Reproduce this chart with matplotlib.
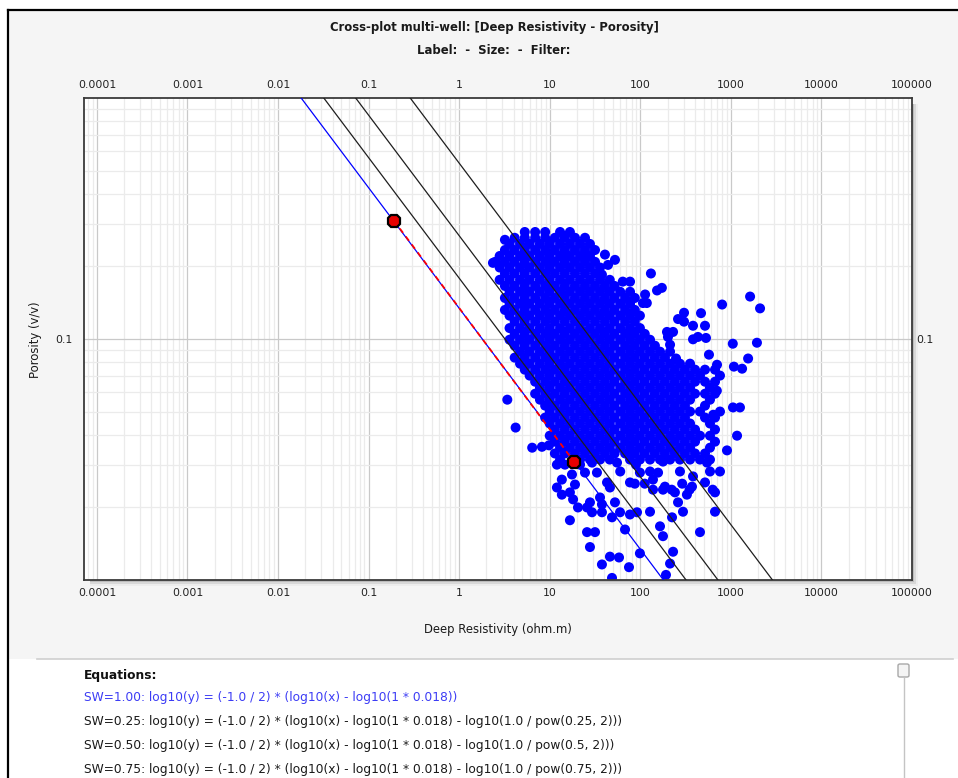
import matplotlib
matplotlib.use("Agg")
import matplotlib.pyplot as plt
from matplotlib.patches import Rectangle, FancyBboxPatch
from matplotlib.lines import Line2D
from matplotlib.ticker import FixedLocator, NullFormatter

# Archie parameters used for the saturation lines
a_coef = 1
rw = 0.018
sw_values = [1.00, 0.25, 0.50, 0.75]
sw_colors = ["#0000ff", "#1e1e1e", "#1e1e1e", "#1e1e1e"]

# two picked points on the SW=1 line (resistivity, porosity)
pick_res = [0.19, 18.5]
pick_por = [0.31, 0.031]

x_ticks = [0.0001, 0.001, 0.01, 0.1, 1, 10, 100, 1000, 10000, 100000]
x_tick_labels = ["0.0001", "0.001", "0.01", "0.1", "1", "10", "100", "1000", "10000", "100000"]
y_ticks = [0.1]
y_tick_labels = ["0.1"]

# well data, grouped by porosity rows (v/v) -> deep resistivity (ohm.m)
row_porosity = [0.278, 0.263, 0.248, 0.234, 0.221, 0.209, 0.198, 0.187, 0.176, 0.166,
                0.157, 0.148, 0.140, 0.132, 0.125, 0.118, 0.111, 0.105, 0.0993, 0.0938,
                0.0886, 0.0837, 0.0790, 0.0746, 0.0705, 0.0665, 0.0628, 0.0593, 0.0560, 0.0529,
                0.0500, 0.0472, 0.0446, 0.0421, 0.0397, 0.0375, 0.0354, 0.0335, 0.0316, 0.0282,
                0.0251, 0.0237]
row_resistivity = [
    [5.3, 6.9, 8.9, 13, 16.7],
    [4.1, 5.3, 6.9, 8.9, 11.4, 14.7, 19, 24.5],
    [3.6, 4.7, 6.0, 7.8, 10, 13, 16.7, 21.6, 27.8],
    [3.2, 4.1, 5.3, 6.9, 8.9, 11.4, 14.7, 19, 24.5, 31.6],
    [2.8, 3.6, 4.7, 6.0, 7.8, 10, 13, 16.7, 21.6, 27.8],
    [2.5, 3.2, 4.1, 5.3, 6.9, 8.9, 11.4, 14.7, 19, 24.5, 31.6],
    [2.8, 3.6, 4.7, 6.0, 7.8, 10, 13, 16.7, 21.6, 27.8, 35.9],
    [3.2, 4.1, 5.3, 6.9, 8.9, 11.4, 14.7, 19, 24.5, 31.6],
    [2.8, 3.6, 4.7, 6.0, 7.8, 10, 13, 16.7, 21.6, 27.8, 35.9, 46],
    [3.2, 4.1, 5.3, 6.9, 8.9, 11.4, 14.7, 19, 24.5, 31.6, 40.7, 52],
    [3.6, 4.7, 6.0, 7.8, 10, 13, 16.7, 21.6, 27.8, 35.9, 46, 60, 77],
    [3.2, 4.1, 5.3, 6.9, 8.9, 11.4, 14.7, 19, 24.5, 31.6, 40.7, 52, 68, 87],
    [3.6, 4.7, 6.0, 7.8, 10, 13, 16.7, 21.6, 27.8, 35.9, 46, 60, 77],
    [3.2, 4.1, 5.3, 6.9, 8.9, 11.4, 14.7, 19, 24.5, 31.6, 40.7, 52, 68, 87],
    [3.6, 4.7, 6.0, 7.8, 10, 13, 16.7, 21.6, 27.8, 35.9, 46, 60, 77, 99],
    [4.1, 5.3, 6.9, 8.9, 11.4, 14.7, 19, 24.5, 31.6, 40.7, 52, 68, 87],
    [3.6, 4.7, 6.0, 7.8, 10, 13, 16.7, 21.6, 27.8, 35.9, 46, 60, 77, 99],
    [4.1, 5.3, 6.9, 8.9, 11.4, 14.7, 19, 24.5, 31.6, 40.7, 52, 68, 87, 112],
    [3.6, 4.7, 6.0, 7.8, 10, 13, 16.7, 21.6, 27.8, 35.9, 46, 60, 77, 99, 128],
    [4.1, 5.3, 6.9, 8.9, 11.4, 14.7, 19, 24.5, 31.6, 40.7, 52, 68, 87, 112, 145],
    [4.7, 6.0, 7.8, 10, 13, 16.7, 21.6, 27.8, 35.9, 46, 60, 77, 99, 128, 165],
    [4.1, 5.3, 6.9, 8.9, 11.4, 14.7, 19, 24.5, 31.6, 40.7, 52, 68, 87, 112, 145, 187],
    [4.7, 6.0, 7.8, 10, 13, 16.7, 21.6, 27.8, 35.9, 46, 60, 77, 99, 128, 165, 213, 274, 354],
    [5.3, 6.9, 8.9, 11.4, 14.7, 19, 24.5, 31.6, 40.7, 52, 68, 87, 112, 145, 187, 241, 311, 402, 518, 668],
    [6.0, 7.8, 10, 13, 16.7, 21.6, 27.8, 35.9, 46, 60, 77, 99, 128, 165, 213, 274, 354, 456, 758],
    [6.9, 8.9, 11.4, 14.7, 19, 24.5, 31.6, 40.7, 52, 68, 87, 112, 145, 187, 241, 311, 402, 518, 668],
    [7.8, 10, 13, 16.7, 21.6, 27.8, 35.9, 46, 60, 77, 99, 128, 165, 213, 274, 354, 588],
    [6.9, 8.9, 11.4, 14.7, 19, 24.5, 31.6, 40.7, 52, 68, 87, 112, 145, 187, 241, 311, 402, 518, 668],
    [7.8, 10, 13, 16.7, 21.6, 27.8, 35.9, 46, 60, 77, 99, 128, 165, 213, 274, 354, 588],
    [8.9, 11.4, 14.7, 19, 24.5, 31.6, 40.7, 52, 68, 87, 112, 145, 187, 241, 311, 518],
    [10, 13, 16.7, 21.6, 27.8, 35.9, 46, 60, 77, 99, 128, 165, 213, 274, 354, 456, 758],
    [8.9, 11.4, 14.7, 19, 24.5, 31.6, 40.7, 52, 68, 87, 112, 145, 187, 241, 311, 518, 668],
    [10, 13, 16.7, 21.6, 27.8, 35.9, 46, 60, 77, 99, 128, 165, 213, 274, 354, 588],
    [11.4, 14.7, 19, 24.5, 31.6, 40.7, 52, 68, 87, 112, 145, 187, 241, 311, 402, 668],
    [10, 13, 16.7, 21.6, 27.8, 35.9, 46, 60, 77, 99, 128, 165, 213, 274, 354, 456, 588],
    [11.4, 14.7, 19, 24.5, 31.6, 40.7, 52, 68, 87, 112, 145, 187, 241, 311, 402, 668],
    [13, 16.7, 21.6, 27.8, 35.9, 46, 60, 77, 99, 128, 165, 213, 274, 354, 588],
    [11.4, 14.7, 19, 24.5, 31.6, 40.7, 52, 68, 87, 112, 145, 187, 241, 311, 402, 518],
    [13, 21.6, 27.8, 35.9, 46, 77, 99, 128, 165, 213, 274, 354, 456, 588],
    [60, 128, 274, 588, 758],
    [87, 112, 290],
    [138, 178, 222, 350, 630],
]

# isolated samples (resistivity, porosity)
scattered = [
    (3.2, 0.258), (2.36, 0.207), (131, 0.187), (1630, 0.150), (2100, 0.134),
    (800, 0.139), (1050, 0.0956), (1940, 0.0965), (1550, 0.083), (1330, 0.0753),
    (1080, 0.0768), (1055, 0.052), (1260, 0.052), (1170, 0.0397), (906, 0.0345),
    (304, 0.1285), (468, 0.128), (304, 0.118), (382, 0.1135), (518, 0.1135),
    (261, 0.121), (230, 0.107), (197, 0.107), (202, 0.102), (382, 0.0997),
    (433, 0.102), (531, 0.101), (213, 0.0947), (213, 0.0886), (248, 0.083),
    (573, 0.0861), (703, 0.0782), (113, 0.153), (107, 0.141), (118, 0.141),
    (153, 0.159), (173, 0.163), (64, 0.173), (77, 0.173), (40.7, 0.224),
    (52.5, 0.213), (44, 0.203), (37.7, 0.185), (3.4, 0.056), (4.2, 0.0429),
    (6.4, 0.0354), (8.2, 0.0357), (9.8, 0.0362), (700, 0.0610), (640, 0.0485),
    (12.0, 0.0301), (14.7, 0.0301), (13.6, 0.0261), (17.6, 0.0274), (19.0, 0.0249),
    (12.0, 0.0242), (13.6, 0.0226), (16.7, 0.0231), (18.1, 0.0216), (21.6, 0.0301),
    (29.3, 0.0307), (55.3, 0.0307), (89.5, 0.0301), (178, 0.0310), (545, 0.0307),
    (24.5, 0.0279), (33.2, 0.0279), (99, 0.0279), (157, 0.0279), (382, 0.0269),
    (42.9, 0.0254), (76.9, 0.0254), (138, 0.0261), (187, 0.0244), (372, 0.0244),
    (518, 0.0254), (46.2, 0.0242), (241, 0.0231), (327, 0.0226), (668, 0.0231),
    (35.9, 0.0220), (52.5, 0.0210), (37.7, 0.0206), (261, 0.0210), (27.8, 0.0210),
    (25.8, 0.0200), (20.5, 0.0200), (29.3, 0.0191), (37.7, 0.0191), (59.7, 0.0191),
    (76.9, 0.0187), (91.9, 0.0191), (128, 0.0192), (296, 0.0192), (668, 0.0192),
    (48.7, 0.0182), (224, 0.0182), (16.7, 0.0177), (165, 0.0167), (67.8, 0.0162),
    (178, 0.0152), (456, 0.0158), (25.8, 0.0158), (31.6, 0.0158), (27.8, 0.0137),
    (99, 0.0129), (230, 0.0131), (46.2, 0.0125), (58.2, 0.0124), (213, 0.0117),
    (37.7, 0.0116), (75, 0.0113), (48.7, 0.0102), (192, 0.0105),
]

equations = [
    "SW=1.00: log10(y) = (-1.0 / 2) * (log10(x) - log10(1 * 0.018))",
    "SW=0.25: log10(y) = (-1.0 / 2) * (log10(x) - log10(1 * 0.018) - log10(1.0 / pow(0.25, 2)))",
    "SW=0.50: log10(y) = (-1.0 / 2) * (log10(x) - log10(1 * 0.018) - log10(1.0 / pow(0.5, 2)))",
    "SW=0.75: log10(y) = (-1.0 / 2) * (log10(x) - log10(1 * 0.018) - log10(1.0 / pow(0.75, 2)))",
]
equation_colors = ["#3c3cf5", "#1a1a1a", "#1a1a1a", "#1a1a1a"]

W, H = 958, 778
FONT = "DejaVu Sans"


def fx(px):
    return px / W


def fy(py):
    return 1 - py / H


def frect(x0, y0, x1, y1, **kw):
    return Rectangle((fx(x0), fy(y1)), fx(x1) - fx(x0), fy(y0) - fy(y1),
                     transform=fig.transFigure, **kw)


fig = plt.figure(figsize=(W / 100, H / 100), dpi=100)
fig.patch.set_facecolor("white")

# window panel, plot shadow and equations area
fig.patches.append(frect(8, 10, 960, 659, facecolor="#f5f5f5", edgecolor="none", zorder=-3))
fig.patches.append(frect(8, 659, 960, 780, facecolor="white", edgecolor="none", zorder=-3))
for off, shade in [(6, "#ededed"), (4, "#d8d8d8"), (2, "#bcbcbc")]:
    fig.patches.append(frect(90, 104, 912 + off, 580 + off, facecolor=shade,
                             edgecolor="none", zorder=-2))
fig.lines.append(Line2D([fx(8), fx(8)], [fy(10), fy(780)], transform=fig.transFigure,
                        color="black", lw=1.6))
fig.lines.append(Line2D([fx(8), fx(960)], [fy(10), fy(10)], transform=fig.transFigure,
                        color="black", lw=1.6))
fig.lines.append(Line2D([fx(37), fx(953)], [fy(659), fy(659)], transform=fig.transFigure,
                        color="#cfcfcf", lw=1.2))

ax = fig.add_axes([fx(84), fy(580), fx(912) - fx(84), fy(98) - fy(580)])
ax.set_xscale("log")
ax.set_yscale("log")
ax.set_xlim(7.2e-5, 1e5)
ax.set_ylim(0.01, 1)

x_minor = [m * 10.0 ** k for k in range(-5, 5) for m in range(2, 10)]
y_minor = [m * 10.0 ** k for k in range(-2, 0) for m in range(2, 10)]
ax.xaxis.set_major_locator(FixedLocator(x_ticks))
ax.xaxis.set_minor_locator(FixedLocator(x_minor))
ax.yaxis.set_major_locator(FixedLocator(y_ticks))
ax.yaxis.set_minor_locator(FixedLocator(y_minor))
ax.xaxis.set_minor_formatter(NullFormatter())
ax.yaxis.set_minor_formatter(NullFormatter())
ax.set_xticklabels(x_tick_labels)
ax.set_yticklabels(y_tick_labels)
ax.tick_params(axis="both", which="both", length=0, labelsize=7.8, labelcolor="#222222")
ax.tick_params(axis="x", top=True, labeltop=True, pad=5.5)
ax.tick_params(axis="y", right=True, labelright=True, pad=3)
for lab in ax.get_xticklabels() + ax.yaxis.get_ticklabels():
    lab.set_fontfamily(FONT)
for t in ax.yaxis.get_major_ticks():
    t.label1.set_x(-0.009)
    t.label2.set_x(1.0)

ax.grid(which="major", color="#c9c9c9", lw=0.9)
ax.grid(which="minor", color="#ebebeb", lw=0.9)
ax.set_axisbelow(True)
for sp in ax.spines.values():
    sp.set_color("#3a3a3a")
    sp.set_linewidth(1.3)

# samples
res, por = [], []
for p, row in zip(row_porosity, row_resistivity):
    res += row
    por += [p] * len(row)
res += [r for r, _ in scattered]
por += [p for _, p in scattered]
ax.scatter(res, por, s=52, c="#0000ff", edgecolors="none", zorder=2)

# saturation lines from the Archie equations
xr = [7.2e-5, 1e5]
for sw, col in zip(sw_values, sw_colors):
    r0 = a_coef * rw / sw ** 2
    ax.plot(xr, [(x / r0) ** -0.5 for x in xr], color=col, lw=0.9, zorder=3)

ax.plot(pick_res, pick_por, color="#ff0000", lw=1.3, ls=(0, (3, 2.5)), zorder=4)
ax.plot(pick_res, pick_por, "8", ms=10, mfc="#e80000", mec="black", mew=1.6, zorder=5)

# titles and axis labels
fig.text(fx(494), fy(28), "Cross-plot multi-well: [Deep Resistivity - Porosity]",
         ha="center", va="center", fontsize=8.4, fontweight="bold", family=FONT, color="#1a1a1a")
fig.text(fx(494), fy(51), "Label:  -  Size:  -  Filter:",
         ha="center", va="center", fontsize=8.4, fontweight="bold", family=FONT, color="#1a1a1a")
fig.text(fx(498), fy(629), "Deep Resistivity (ohm.m)", ha="center", va="center",
         fontsize=8.4, family=FONT, color="#1a1a1a")
fig.text(fx(35), fy(340), "Porosity (v/v)", ha="center", va="center", rotation=90,
         fontsize=8.4, family=FONT, color="#1a1a1a")

# equations panel
fig.text(fx(84), fy(675), "Equations:", ha="left", va="center", fontsize=8.8,
         fontweight="bold", family=FONT, color="#111111")
for i, (eq, col) in enumerate(zip(equations, equation_colors)):
    fig.text(fx(84), fy(697 + 24 * i), eq, ha="left", va="center", fontsize=8.8,
             family=FONT, color=col)

# scroll bar
fig.patches.append(FancyBboxPatch((fx(898), fy(677)), fx(11), fy(0) - fy(13),
                                  boxstyle="round,pad=0,rounding_size=0.002",
                                  transform=fig.transFigure, facecolor="#f4f4f4",
                                  edgecolor="#a8a8a8", lw=1))
fig.lines.append(Line2D([fx(904), fx(904)], [fy(678), fy(780)], transform=fig.transFigure,
                        color="#c4c4c4", lw=1))

fig.savefig("out.png", dpi=100)
